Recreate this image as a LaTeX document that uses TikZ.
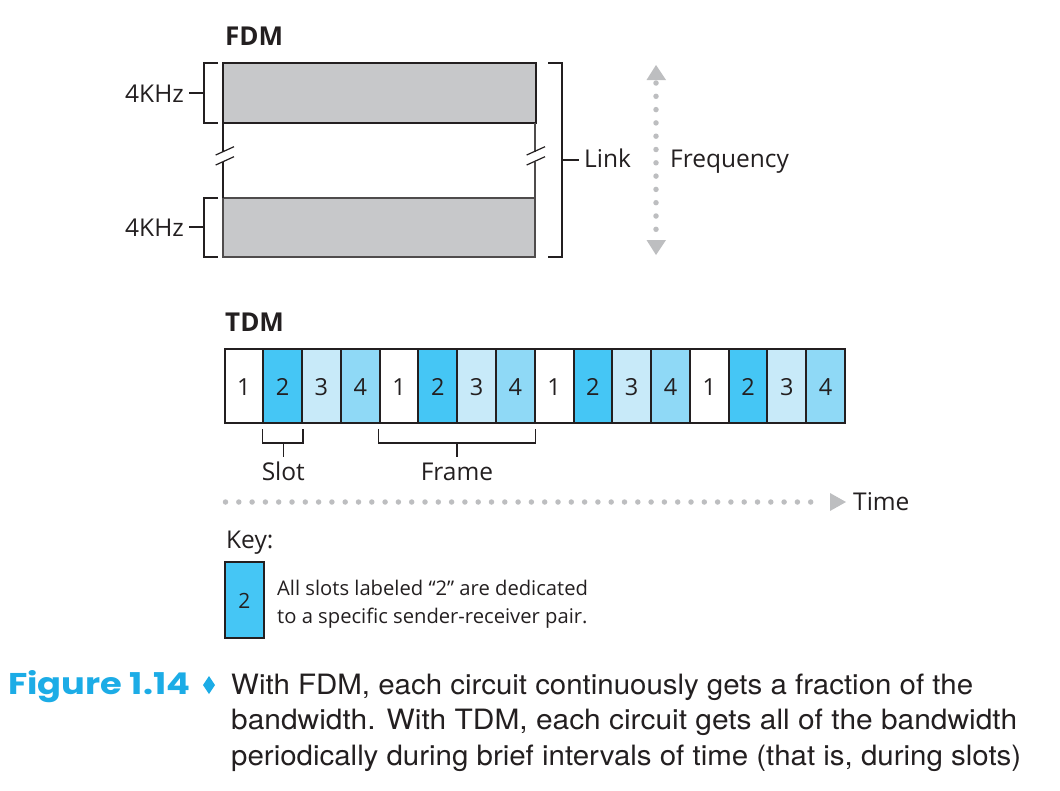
\documentclass[tikz,border=0pt]{standalone}
\usepackage{fontspec}
\setmainfont{Open Sans}
\newfontfamily\capfont{TeX Gyre Heros}
\newfontfamily\figfont{Poppins}
\definecolor{ink}{HTML}{231F20}
\definecolor{bandgray}{HTML}{C7C8CA}
\definecolor{dotgray}{HTML}{BDBEC0}
\definecolor{cyantwo}{HTML}{45C6F5}
\definecolor{cyanthree}{HTML}{C8EAF9}
\definecolor{cyanfour}{HTML}{8FD9F6}
\definecolor{figcyan}{HTML}{1CACE6}
\begin{document}
\begin{tikzpicture}[x=1pt,y=-1pt,
  lbl/.style={inner sep=0pt,text=ink,font=\fontsize{24.5}{28}\selectfont},
  ttl/.style={inner sep=0pt,text=ink,font=\fontsize{26}{30}\selectfont\bfseries},
  brk/.style={draw=ink,line width=1.3pt},
  slotbox/.style={draw=ink,line width=2pt,minimum width=38.78pt,minimum height=74pt,inner sep=0pt,text=ink,font=\fontsize{23.5}{26}\selectfont},
  dots/.style={draw=dotgray,line width=5.5pt,line cap=round,dash pattern=on 0pt off 13.3pt},
  keytxt/.style={inner sep=0pt,text=ink,font=\fontsize{20.2}{24}\selectfont},
  captxt/.style={inner sep=0pt,text=ink,font=\fontsize{28}{32}\capfont}
]
\useasboundingbox (0,0) rectangle (1060,790);

% ---------- FDM ----------
\node[ttl,anchor=base west] (fdm) at (225,45) {FDM};
\fill[bandgray] (223,63) rectangle (536,123);
\fill[bandgray] (223,198) rectangle (535,257);
\draw[ink,line width=2.5pt] (223,63) rectangle (536,123);
\draw[ink!80,line width=1.5pt] (223,198) rectangle (535,257);
% middle vertical sides with break marks
\draw[ink,line width=2.5pt] (223,123) -- (223,151.5);
\draw[ink,line width=2.5pt] (223,161.5) -- (223,198);
\draw[ink!80,line width=1.2pt] (535,123) -- (535,151.5);
\draw[ink!80,line width=1.2pt] (535,161.5) -- (535,198);
\draw[ink,line width=1.2pt] (215.7,155) -- (234,146.7);
\draw[ink,line width=1.2pt] (215.7,165) -- (234,156.7);
\draw[ink,line width=1.2pt] (526.7,155) -- (545,146.7);
\draw[ink,line width=1.2pt] (526.7,165) -- (545,156.7);

% left brackets
\draw[brk] (218,63) -- (204,63) -- (204,123) -- (218,123);
\draw[brk] (218,198) -- (204,198) -- (204,257) -- (218,257);
\coordinate (bt) at (204,93);
\coordinate (bb) at (204,227);
\node[lbl,anchor=base east] (khz1) at (184,102) {4KHz};
\node[lbl,anchor=base east] (khz2) at (184,236) {4KHz};
\draw[brk] (bt) -- ([xshift=5pt]bt -| khz1.east);
\draw[brk] (bb) -- ([xshift=5pt]bb -| khz2.east);

% right bracket (Link)
\draw[brk] (548,63) -- (562,63) -- (562,257) -- (548,257);
\coordinate (bl) at (562,160);
\node[lbl,anchor=base west] (link) at (584,167.5) {Link};
\draw[brk] (bl) -- ([xshift=-5pt]bl -| link.west);

% Frequency arrow
\coordinate (ftop) at (656,83);
\coordinate (fbot) at (656,233);
\draw[dots] (ftop) -- (fbot);
\fill[dotgray] (656,65) -- (666,80) -- (646.5,80) -- cycle;
\fill[dotgray] (656,255) -- (666,240) -- (646.5,240) -- cycle;
\node[lbl,anchor=base west] (freq) at (670,167.5) {Frequency};

% ---------- TDM ----------
\node[ttl,anchor=base west] (tdm) at (225,331) {TDM};
\foreach \i/\n/\c in {0/1/white,1/2/cyantwo,2/3/cyanthree,3/4/cyanfour,
                      4/1/white,5/2/cyantwo,6/3/cyanthree,7/4/cyanfour,
                      8/1/white,9/2/cyantwo,10/3/cyanthree,11/4/cyanfour,
                      12/1/white,13/2/cyantwo,14/3/cyanthree,15/4/cyanfour}{
  \node[slotbox,fill=\c,text depth=0pt] (s\i) at ({224.5+38.78*\i+19.39},386) {\raisebox{-2pt}{\n}};
}
% slot bracket
\draw[brk] ([yshift=-5pt]s1.south west) -- ++(0,14) -| ([yshift=-5pt]s1.south east);
\node[lbl,anchor=base] (slot) at (283.3,480.5) {Slot};
\draw[brk] (283.3,442) -- (slot.north |- 0,457);
% frame bracket
\draw[brk] ([yshift=-5pt]s4.south west) -- ++(0,14) -| ([yshift=-5pt]s7.south east);
\node[lbl,anchor=base] (frame) at (457,480.5) {Frame};
\draw[brk] (457,442) -- (frame.north |- 0,457);

% Time arrow
\coordinate (tstart) at (225.5,502);
\coordinate (tend) at (823,502);
\draw[dots] (tstart) -- (tend);
\fill[dotgray] (846,502) -- (830,493) -- (830,511) -- cycle;
\node[lbl,anchor=base west] (time) at (853,510.5) {Time};

% ---------- Key ----------
\node[lbl,anchor=base west] (key) at (226,548) {Key:};
\node[draw=ink,line width=2pt,fill=cyantwo,minimum width=39pt,minimum height=76pt,inner sep=0pt] (keybox) at (244.5,600) {};
\node[inner sep=0pt,text=ink,font=\fontsize{21}{24}\selectfont,anchor=base] (keytwo) at (244.5,608.5) {2};
\node[keytxt,anchor=base west] (keyl1) at (277,595) {All slots labeled “2” are dedicated};
\node[keytxt,anchor=base west] (keyl2) at (277,623) {to a specific sender-receiver pair.};

% ---------- Caption ----------
\node[inner sep=0pt,anchor=base west,text=figcyan,font=\fontsize{30}{34}\figfont\bfseries] (fig) at (8,694) {\resizebox{182pt}{\height}{Figure 1.14}};
\fill[figcyan] (209,676) -- (215,685) -- (209,694) -- (203,685) -- cycle;
\node[captxt,anchor=base west] (cap1) at (231,694) {\resizebox{742pt}{\height}{With FDM, each circuit continuously gets a fraction of the}};
\node[captxt,anchor=base west] (cap2) at (231,729.5) {\resizebox{786pt}{\height}{bandwidth. With TDM, each circuit gets all of the bandwidth}};
\node[captxt,anchor=base west] (cap3) at (231,765) {\resizebox{790pt}{\height}{periodically during brief intervals of time (that is, during slots)}};
\end{tikzpicture}
\end{document}
